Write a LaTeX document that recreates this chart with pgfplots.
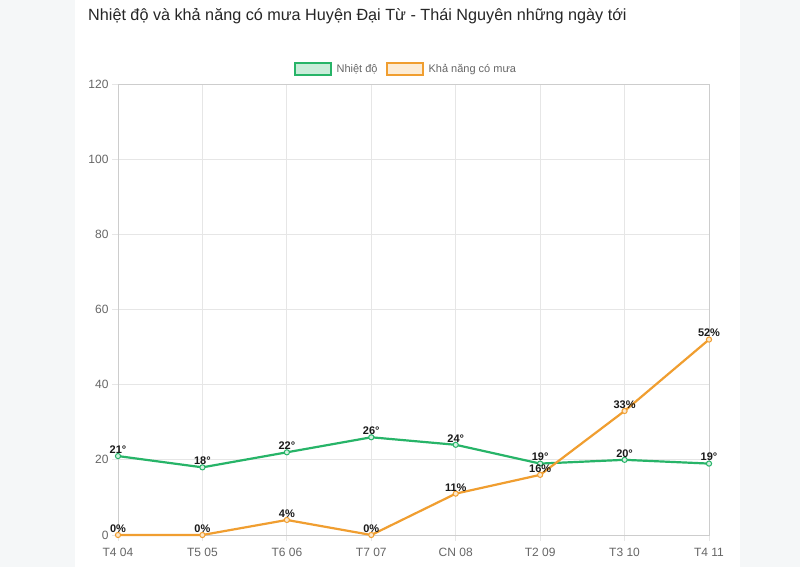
\documentclass[border=0pt]{standalone}
\usepackage{fontspec}
\setmainfont{Liberation Sans}
\usepackage{pgfplots}
\pgfplotsset{compat=1.18}
\definecolor{tgreen}{RGB}{39,180,104}
\definecolor{torange}{RGB}{240,158,48}
\definecolor{bgray}{RGB}{245,247,248}
\definecolor{gridc}{RGB}{230,230,230}
\definecolor{axc}{RGB}{205,205,205}
\definecolor{tickc}{RGB}{102,102,102}
\begin{document}
\begin{tikzpicture}[x=1pt,y=1pt]
\fill[bgray] (0,0) rectangle (800,567);
\fill[white] (75,0) rectangle (740,567);
\node[anchor=base west, inner sep=0pt, font=\fontsize{16.2}{19}\selectfont, text=black!85] at (88,546) {Nhiệt độ và khả năng có mưa Huyện Đại Từ - Thái Nguyên những ngày tới};
\begin{axis}[
  at={(118pt,32pt)}, anchor=south west,
  scale only axis, width=591pt, height=451pt,
  xmin=0, xmax=7, ymin=0, ymax=120,
  xtick={0,...,7},
  xticklabels={T4 04, T5 05, T6 06, T7 07, CN 08, T2 09, T3 10, T4 11},
  ytick={0,20,...,120},
  xtick pos=left, ytick pos=left,
  grid=major,
  grid style={gridc, line width=0.8pt},
  axis line style={axc, line width=0.8pt},
  tick style={gridc, line width=0.8pt},
  tick align=outside,
  major tick length=6pt,
  tick label style={font=\fontsize{12}{14}\selectfont, text=tickc},
  xticklabel style={yshift=-4pt},
  /pgf/number format/assume math mode=true,
  clip=false,
  legend style={at={(0.487,1.033)}, anchor=center, draw=none, fill=none,
    legend columns=2, font=\fontsize{11}{13}\selectfont, text=tickc,
    /tikz/every even column/.append style={column sep=6pt}},
  every node near coord/.append style={font=\bfseries\fontsize{11}{13}\selectfont, text=black!90, anchor=south, inner sep=2pt},
]
\addplot[tgreen, line width=2.2pt, mark=*, mark size=2.6pt,
  mark options={fill=tgreen!20, draw=tgreen, line width=1pt},
  nodes near coords={\pgfmathprintnumber{\pgfplotspointmeta}°},
  legend image code/.code={\draw[draw=tgreen, line width=2pt, fill=tgreen!25] (0pt,-6pt) rectangle (36pt,6pt);}]
  coordinates {(0,21) (1,18) (2,22) (3,26) (4,24) (5,19) (6,20) (7,19)};
\addlegendentry{\hspace{3pt}Nhiệt độ}
\addplot[torange, line width=2.2pt, mark=*, mark size=2.6pt,
  mark options={fill=torange!25, draw=torange, line width=1pt},
  nodes near coords={\pgfmathprintnumber{\pgfplotspointmeta}\%},
  legend image code/.code={\draw[draw=torange, line width=2pt, fill=torange!20] (0pt,-6pt) rectangle (36pt,6pt);}]
  coordinates {(0,0) (1,0) (2,4) (3,0) (4,11) (5,16) (6,33) (7,52)};
\addlegendentry{\hspace{3pt}Khả năng có mưa}
\end{axis}
\end{tikzpicture}
\end{document}
